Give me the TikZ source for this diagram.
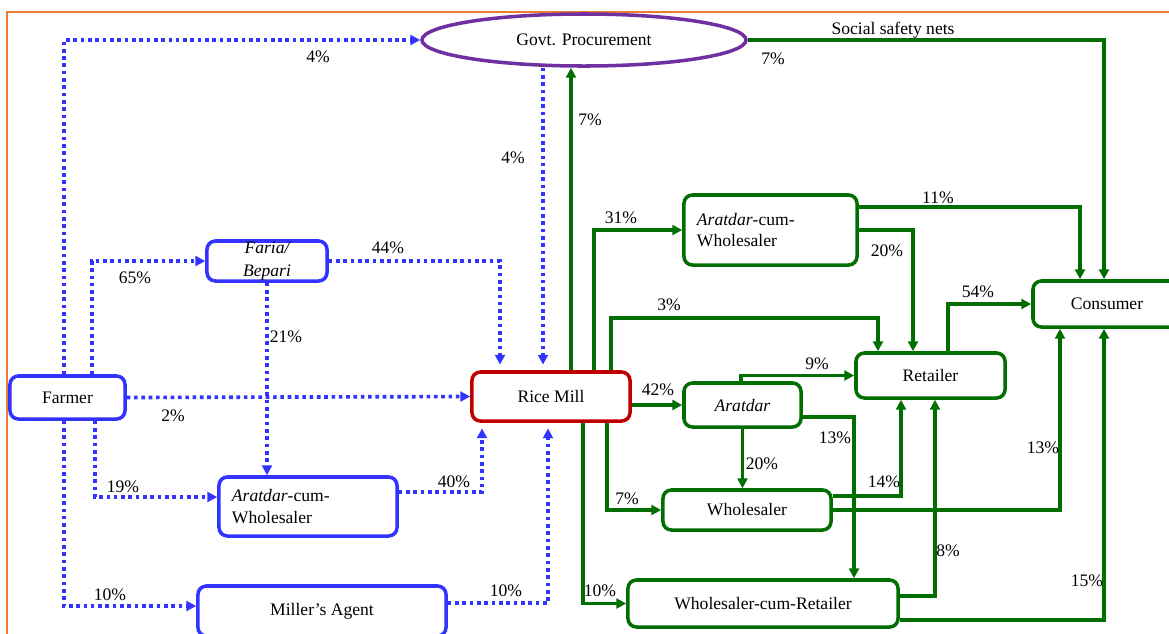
\documentclass[tikz,border=0pt]{standalone}
\usepackage{fontspec}
\setmainfont{Liberation Serif}
\usetikzlibrary{arrows.meta,shapes.geometric}
\definecolor{chainblue}{RGB}{51,51,255}
\definecolor{chaingreen}{RGB}{0,110,0}
\definecolor{millred}{RGB}{192,0,0}
\definecolor{govpurple}{RGB}{112,48,160}
\definecolor{frameorange}{RGB}{237,125,49}

\begin{document}
\begin{tikzpicture}[x=0.025cm, y=-0.025cm,
        every node/.style={font=\fontsize{12.5}{15.5}\selectfont},
        bluebox/.style={draw=chainblue, line width=2.5pt, rounded corners=6pt, fill=white},
        greenbox/.style={draw=chaingreen, line width=2.5pt, rounded corners=6pt, fill=white},
        dotline/.style={draw=chainblue, line width=2.6pt, dash pattern=on 2.6pt off 2.6pt, -{Triangle[length=7pt,width=7pt]}},
        flowline/.style={draw=chaingreen, line width=2.3pt, -{Triangle[length=7pt,width=7pt]}},
        pct/.style={inner sep=0pt}]
            \useasboundingbox (0,0) rectangle (1169,633);
            \draw[frameorange, line width=1.2pt] (7,12) rectangle (1185,650);

            % suppliers side
            \node[bluebox, minimum width=2.875cm, minimum height=1.075cm] (farmer) at (67.5,397.5) {Farmer};
            \node[bluebox, minimum width=3cm, minimum height=1cm, inner sep=0pt, align=center, font=\itshape\fontsize{12.5}{17}\selectfont] (faria) at (267,261) {Faria/\\Bepari};
            \node[bluebox, minimum width=4.45cm, minimum height=1.475cm, text width=3.8cm, inner xsep=0.325cm, align=left] (acwb) at (308,506.5) {\textit{Aratdar}-cum-\\Wholesaler};
            \node[bluebox, minimum width=6.2cm, minimum height=1.25cm] (agent) at (322,611) {Miller’s Agent};
            \node[draw=millred, fill=white, line width=2.5pt, rounded corners=6pt, minimum width=3.95cm, minimum height=1.225cm] (mill) at (551,396.5) {Rice Mill};
            \node[draw=govpurple, fill=white, line width=2.5pt, ellipse, minimum width=8.1cm, minimum height=1.3cm, inner sep=0pt] (govt) at (584,40) {Govt. Procurement};

            % buyers side
            \node[greenbox, minimum width=4.325cm, minimum height=1.75cm, text width=3.675cm, inner xsep=0.325cm, align=left] (acwg) at (770.5,230) {\textit{Aratdar}-cum-\\Wholesaler};
            \node[greenbox, minimum width=3.7cm, minimum height=1.15cm] (consumer) at (1107,304) {Consumer};
            \node[greenbox, minimum width=3.725cm, minimum height=1.125cm] (retailer) at (930.5,375.5) {Retailer};
            \node[greenbox, minimum width=2.925cm, minimum height=1.1cm] (aratdar) at (742.5,405) {\textit{Aratdar}};
            \node[greenbox, minimum width=4.2cm, minimum height=1cm] (wholesaler) at (747,510) {Wholesaler};
            \node[greenbox, minimum width=6.75cm, minimum height=1.175cm] (wcr) at (763,603.5) {Wholesaler-cum-Retailer};

            % paddy flows
            \draw[dotline] (farmer.north -| 64,0) |- (govt.west);
            \draw[dotline] (farmer.north -| 92,0) |- (faria.west);
            \draw[dotline, shorten >=4pt] (faria.east) -| (mill.north -| 500,0);
            \draw[dotline, shorten >=4pt] (govt.south -| 543,0) -- (mill.north -| 543,0);
            \draw[dotline] (faria.south) -- (acwb.north -| faria.south);
            \draw[dotline] (farmer.east) -- (mill.west);
            \draw[dotline] (farmer.south -| 95,0) |- (acwb.west |- 0,497);
            \draw[dotline, shorten >=4pt] (acwb.east |- 0,492) -| (mill.south -| 482,0);
            \draw[dotline] (farmer.south -| 64,0) |- (agent.west |- 0,606);
            \draw[dotline, shorten >=4pt] (agent.east |- 0,603) -| (mill.south -| 548,0);

            % rice flows
            \draw[flowline] (mill.north -| 571,0) -- (govt.south -| 571,0);
            \draw[flowline] (govt.east) -| (consumer.north -| 1104,0);
            \draw[flowline] (mill.north -| 594,0) |- (acwg.west);
            \draw[flowline] (mill.north -| 611,0) -- (611,318) -| (retailer.north -| 878,0);
            \draw[flowline] (acwg.east |- 0,207) -| (consumer.north -| 1080,0);
            \draw[flowline] (acwg.east) -| (retailer.north -| 913,0);
            \draw[flowline] (retailer.north -| 948,0) |- (consumer.west);
            \draw[flowline] (mill.east |- aratdar.west) -- (aratdar.west);
            \draw[flowline] (aratdar.north -| 741,0) |- (retailer.west);
            \draw[flowline] (aratdar.south) -- (wholesaler.north -| aratdar.south);
            \draw[flowline] (aratdar.east |- 0,417) -| (wcr.north -| 854,0);
            \draw[flowline] (mill.south -| 607,0) |- (wholesaler.west);
            \draw[flowline] (mill.south -| 583,0) |- (wcr.west);
            \draw[flowline] (wholesaler.east |- 0,496) -| (retailer.south -| 901,0);
            \draw[flowline] (wholesaler.east) -| (consumer.south -| 1060,0);
            \draw[flowline] (wcr.east |- 0,596) -| (retailer.south -| 935,0);
            \draw[flowline] (wcr.east |- 0,620) -| (consumer.south -| 1104,0);

            % shares
            \node[pct] (fg) at (318,57) {4\%};
            \node[pct] (ff) at (135,278) {65\%};
            \node[pct] (fm) at (388,248) {44\%};
            \node[pct] (gm) at (513,158) {4\%};
            \node[pct] (fa) at (286,337) {21\%};
            \node[pct] (fr) at (173,416) {2\%};
            \node[pct] (fw) at (123,487) {19\%};
            \node[pct] (wm) at (454,482) {40\%};
            \node[pct] (fs) at (110,595) {10\%};
            \node[pct] (sm) at (506,591) {10\%};
            \node[pct] (mg) at (590,120) {7\%};
            \node[pct] (safety) at (893,30) {Social safety nets};
            \node[pct] (gc) at (773,59) {7\%};
            \node[pct] (ma) at (621,218) {31\%};
            \node[pct] (mr) at (669,305) {3\%};
            \node[pct] (ac) at (938,198) {11\%};
            \node[pct] (ar) at (887,251) {20\%};
            \node[pct] (rc) at (978,292) {54\%};
            \node[pct] (mt) at (658,390) {42\%};
            \node[pct] (tr) at (817,364) {9\%};
            \node[pct] (tw) at (762,464) {20\%};
            \node[pct] (tx) at (835,438) {13\%};
            \node[pct] (mw) at (627,499) {7\%};
            \node[pct] (mx) at (600,591) {10\%};
            \node[pct] (wr) at (884,482) {14\%};
            \node[pct] (wc) at (1043,448) {13\%};
            \node[pct] (xr) at (948,551) {8\%};
            \node[pct] (xc) at (1087,581) {15\%};
\end{tikzpicture}
\end{document}
